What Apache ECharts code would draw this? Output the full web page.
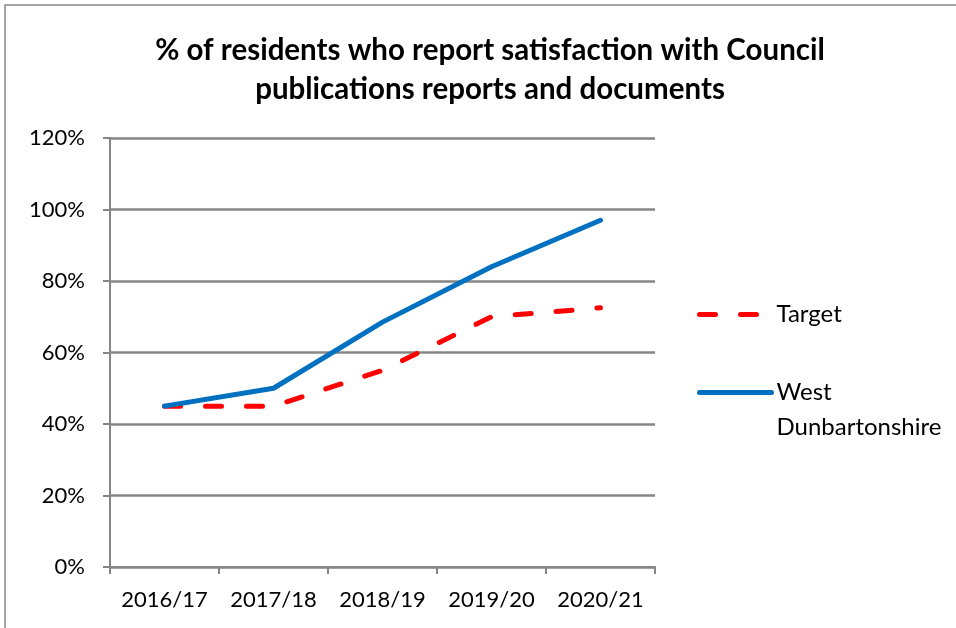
<!DOCTYPE html>
<html>
<head>
<meta charset="utf-8">
<script src="https://cdn.jsdelivr.net/npm/echarts@6/dist/echarts.min.js"></script>
<style>
  html, body { margin: 0; padding: 0; background: #fff; overflow: hidden; }
  #chart { width: 956px; height: 628px; }
</style>
</head>
<body>
<div id="chart"></div>
<script>
// categories and values (percent)
const years = ["2016/17", "2017/18", "2018/19", "2019/20", "2020/21"];
const targetValues = [45, 45, 55, 70, 72.5];
const westDunValues = [45, 50, 68.5, 84, 97];
const yTicks = { min: 0, max: 120, interval: 20 };

const fontFamily = "Lato, 'Open Sans', sans-serif";
const gridGrey = "#868686";

const myChart = echarts.init(document.getElementById("chart"));

const option = {
  backgroundColor: "#fff",
  animation: false,
  title: {
    text: "% of residents who report satisfaction with Council\npublications reports and documents",
    left: 485,
    top: 26,
    textAlign: "center",
    textStyle: {
      fontFamily: fontFamily,
      fontWeight: "bold",
      fontSize: 29.5,
      lineHeight: 39,
      color: "#000",
    },
  },
  // outer frame of the chart
  graphic: [
    {
      type: "rect",
      shape: { x: 5, y: 5, width: 1000, height: 700 },
      style: { fill: "none", stroke: gridGrey, lineWidth: 1.5 },
      silent: true,
    },
  ],
  legend: {
    orient: "vertical",
    left: 692,
    top: 292,
    itemWidth: 72,
    itemHeight: 14,
    itemGap: 8,
    itemStyle: { opacity: 0 },
    lineStyle: { width: 5, cap: "round" },
    // blank first line keeps "West" level with the legend line
    formatter: (name) => (name === "West Dunbartonshire" ? " \nWest\nDunbartonshire" : name),
    textStyle: {
      fontFamily: fontFamily,
      fontSize: 24,
      lineHeight: 35,
      color: "#000",
    },
    data: ["Target", "West Dunbartonshire"],
  },
  grid: {
    left: 110,
    right: 301,
    top: 138,
    bottom: 61,
  },
  xAxis: {
    type: "category",
    data: years,
    boundaryGap: true,
    axisLine: { lineStyle: { color: gridGrey, width: 2 } },
    axisTick: { show: true, interval: 0, length: 7, lineStyle: { color: gridGrey, width: 2 } },
    axisLabel: {
      interval: 0,
      margin: 22,
      fontFamily: fontFamily,
      fontSize: 22,
      color: "#000",
    },
  },
  yAxis: {
    type: "value",
    min: yTicks.min,
    max: yTicks.max,
    interval: yTicks.interval,
    axisLine: { show: true, lineStyle: { color: gridGrey, width: 2 } },
    axisTick: { show: true, length: 7, lineStyle: { color: gridGrey, width: 2 } },
    splitLine: { lineStyle: { color: gridGrey, width: 2.5 } },
    axisLabel: {
      formatter: "{value}%",
      margin: 25,
      fontFamily: fontFamily,
      fontSize: 22,
      color: "#000",
    },
  },
  series: [
    {
      name: "Target",
      type: "line",
      data: targetValues,
      symbol: "none",
      lineStyle: { color: "#FF0000", width: 5, type: [16, 25], cap: "round" },
      itemStyle: { color: "#FF0000" },
      z: 2,
    },
    {
      name: "West Dunbartonshire",
      type: "line",
      data: westDunValues,
      symbol: "none",
      lineStyle: { color: "#0070C0", width: 5, cap: "round" },
      itemStyle: { color: "#0070C0" },
      z: 3,
    },
  ],
};

myChart.setOption(option, true);
</script>
</body>
</html>
